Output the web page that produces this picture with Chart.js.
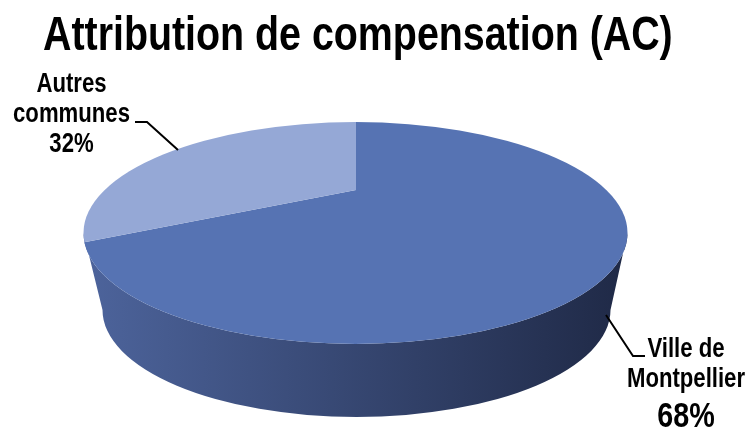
<!DOCTYPE html>
<html>
<head>
<meta charset="utf-8">
<script src="https://cdn.jsdelivr.net/npm/chart.js@4/dist/chart.umd.min.js"></script>
<style>
    html, body { margin: 0; padding: 0; background: #fff; }
    #wrap { width: 749px; height: 427px; position: relative; }
</style>
</head>
<body>
<div id="wrap"><canvas id="chart"></canvas></div>
<script>
// Données
const chartTitle = 'Attribution de compensation (AC)';
const categories = ['Ville de Montpellier', 'Autres communes'];
const values = [68, 32];
const labelLines = [['Ville de', 'Montpellier'], ['Autres', 'communes']];

// Couleurs
const topColors = ['#5673b3', '#95a8d6'];
const sideLeft = '#4d649c';
const sideRight = '#1f2946';

// Police étroite simulée (Arial Narrow) par compression horizontale
const FONT = "'Liberation Sans', Arial, sans-serif";
const NARROW = 0.82;

// Géométrie du camembert 3D (écran)
const pie = {
    cx: 356, cy: 190,            // centre visible du camembert
    top: { cx: 355.5, cy: 233, rx: 272, ry: 111 },
    bottom: { cx: 356.5, cy: 310, rx: 254, ry: 107 },
    reach: 420
};

// Titre et étiquettes (positions)
const titlePos = { x: 43, y: 50, size: 48 };
const labelPos = [
    { x: 686, y: 357, lh: 30, size: 27, pctSize: 35, pctGap: 40,
      line: [[606, 315], [633, 356], [645, 356]] },
    { x: 71.5, y: 92, lh: 30, size: 27, pctSize: 27, pctGap: 30,
      line: [[178, 150], [147, 122], [135, 122]] }
];

function narrowText(ctx, txt, x, y, size, align) {
    ctx.save();
    ctx.font = `bold ${size}px ${FONT}`;
    ctx.textAlign = align;
    ctx.translate(x, y);
    ctx.scale(NARROW, 1);
    ctx.fillText(txt, 0, 0);
    ctx.restore();
}

const pie3d = {
    id: 'pie3d',
    beforeDatasetsDraw(chart) {
        const ctx = chart.ctx;
        const t = pie.top, b = pie.bottom;
        // paroi latérale
        ctx.save();
        const grad = ctx.createLinearGradient(t.cx - t.rx, 0, t.cx + t.rx, 0);
        grad.addColorStop(0, sideLeft);
        grad.addColorStop(1, sideRight);
        ctx.beginPath();
        ctx.ellipse(t.cx, t.cy, t.rx, t.ry, 0, 0, Math.PI);
        ctx.lineTo(b.cx - b.rx, b.cy);
        ctx.ellipse(b.cx, b.cy, b.rx, b.ry, 0, Math.PI, 0, true);
        ctx.closePath();
        ctx.fillStyle = grad;
        ctx.fill();
        ctx.restore();

        // face supérieure : arcs de Chart.js aplatis et découpés par l'ellipse
        const arc = chart.getDatasetMeta(0).data[0];
        const s = pie.reach / arc.outerRadius;
        const k = t.ry / t.rx;
        ctx.save();
        ctx.beginPath();
        ctx.ellipse(t.cx, t.cy, t.rx, t.ry, 0, 0, Math.PI * 2);
        ctx.clip();
        ctx.translate(pie.cx, pie.cy);
        ctx.scale(s, s * k);
        ctx.translate(-arc.x, -arc.y);
    },
    afterDatasetsDraw(chart) {
        const ctx = chart.ctx;
        ctx.restore();

        ctx.save();
        ctx.fillStyle = '#000';
        ctx.strokeStyle = '#000';
        ctx.lineWidth = 2;
        ctx.textBaseline = 'alphabetic';

        // titre
        narrowText(ctx, chartTitle, titlePos.x, titlePos.y, titlePos.size, 'left');

        // étiquettes
        const total = values.reduce((a, b) => a + b, 0);
        values.forEach((v, i) => {
            const p = labelPos[i];
            ctx.beginPath();
            p.line.forEach((pt, j) => j ? ctx.lineTo(pt[0], pt[1]) : ctx.moveTo(pt[0], pt[1]));
            ctx.stroke();
            labelLines[i].forEach((txt, j) => narrowText(ctx, txt, p.x, p.y + j * p.lh, p.size, 'center'));
            const pct = Math.round(v / total * 100) + '%';
            narrowText(ctx, pct, p.x, p.y + (labelLines[i].length - 1) * p.lh + p.pctGap, p.pctSize, 'center');
        });
        ctx.restore();
    }
};

new Chart(document.getElementById('chart'), {
    type: 'pie',
    data: {
        labels: categories,
        datasets: [{
            data: values,
            backgroundColor: topColors,
            borderWidth: 0,
            clip: false
        }]
    },
    options: {
        responsive: true,
        maintainAspectRatio: false,
        animation: false,
        layout: { padding: { top: 70 } },
        plugins: {
            legend: { display: false },
            tooltip: { enabled: false },
            title: { display: false }
        }
    },
    plugins: [pie3d]
});
</script>
</body>
</html>
